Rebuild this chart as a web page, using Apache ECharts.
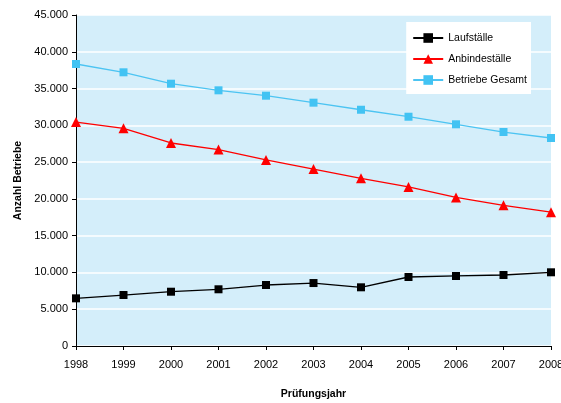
<!DOCTYPE html>
<html>
<head>
<meta charset="utf-8">
<script src="https://cdn.jsdelivr.net/npm/echarts@6/dist/echarts.min.js"></script>
<style>html,body{margin:0;padding:0;background:#fff;overflow:hidden;width:100%;height:100%}#c{width:100vw;height:100vh}</style>
</head>
<body>
<div id="c"></div>
<script>
var years = ['1998','1999','2000','2001','2002','2003','2004','2005','2006','2007','2008'];
var laufstaelle = [6480, 6930, 7380, 7710, 8290, 8560, 7980, 9380, 9520, 9650, 10020];
var anbindestaelle = [30450, 29600, 27600, 26700, 25300, 24060, 22800, 21620, 20200, 19130, 18200];
var gesamt = [38340, 37210, 35660, 34760, 34030, 33080, 32120, 31170, 30140, 29090, 28280];
var yTicks = [0, 5000, 10000, 15000, 20000, 25000, 30000, 35000, 40000, 45000];

var font = 'Liberation Sans, Arial, sans-serif';
function fmt(v){ return v === 0 ? '0' : (v/1000).toFixed(3); }

var chart = echarts.init(document.getElementById('c'), null, {renderer:'canvas'});
chart.setOption({
  animation: false,
  backgroundColor: '#ffffff',
  grid: {left: 76, right: 10, top: 15, bottom: 57, show: true, backgroundColor: '#D4EEFA', borderWidth: 0,
    containLabel: false, outerBoundsMode: 'none'},
  legend: {
    orient: 'vertical', right: 30, top: 22,
    backgroundColor: '#ffffff', padding: [10, 4, 8, 6], itemGap: 9,
    itemWidth: 30, itemHeight: 12,
    textStyle: {fontFamily: font, fontSize: 10.5, color: '#000', lineHeight: 12},
    data: ['Laufställe', 'Anbindeställe', 'Betriebe Gesamt']
  },
  xAxis: {
    type: 'category', data: years, boundaryGap: false,
    name: 'Prüfungsjahr', nameLocation: 'middle', nameGap: 43,
    nameTextStyle: {fontFamily: font, fontSize: 10.5, fontWeight: 'bold', color: '#000'},
    axisLine: {lineStyle: {color: '#000', width: 1}},
    axisTick: {alignWithLabel: true, length: 4, lineStyle: {color: '#000'}},
    axisLabel: {fontFamily: font, fontSize: 11, color: '#000', margin: 13, interval: 0},
    splitLine: {show: false}
  },
  yAxis: {
    type: 'value', min: 0, max: 45000, interval: 5000,
    name: 'Anzahl Betriebe', nameLocation: 'middle', nameGap: 52,
    nameTextStyle: {fontFamily: font, fontSize: 10.5, fontWeight: 'bold', color: '#000'},
    axisLine: {show: true, lineStyle: {color: '#000', width: 1}},
    axisTick: {show: true, length: 4, lineStyle: {color: '#000'}},
    axisLabel: {fontFamily: font, fontSize: 11, color: '#000', margin: 8,
      formatter: function(v){ return yTicks.indexOf(v) >= 0 ? fmt(v) : ''; }},
    splitLine: {show: true, lineStyle: {color: '#ffffff', width: 1.5}}
  },
  series: [
    {name: 'Laufställe', type: 'line', data: laufstaelle, symbol: 'rect', symbolSize: 8,
      lineStyle: {color: '#000000', width: 1.3}, itemStyle: {color: '#000000'}},
    {name: 'Anbindeställe', type: 'line', data: anbindestaelle, symbol: 'triangle', symbolSize: 10,
      lineStyle: {color: '#ff0000', width: 1.3}, itemStyle: {color: '#ff0000'}},
    {name: 'Betriebe Gesamt', type: 'line', data: gesamt, symbol: 'rect', symbolSize: 8,
      lineStyle: {color: '#4cc4f2', width: 1.3}, itemStyle: {color: '#42c3f3'}}
  ]
});
</script>
</body>
</html>
